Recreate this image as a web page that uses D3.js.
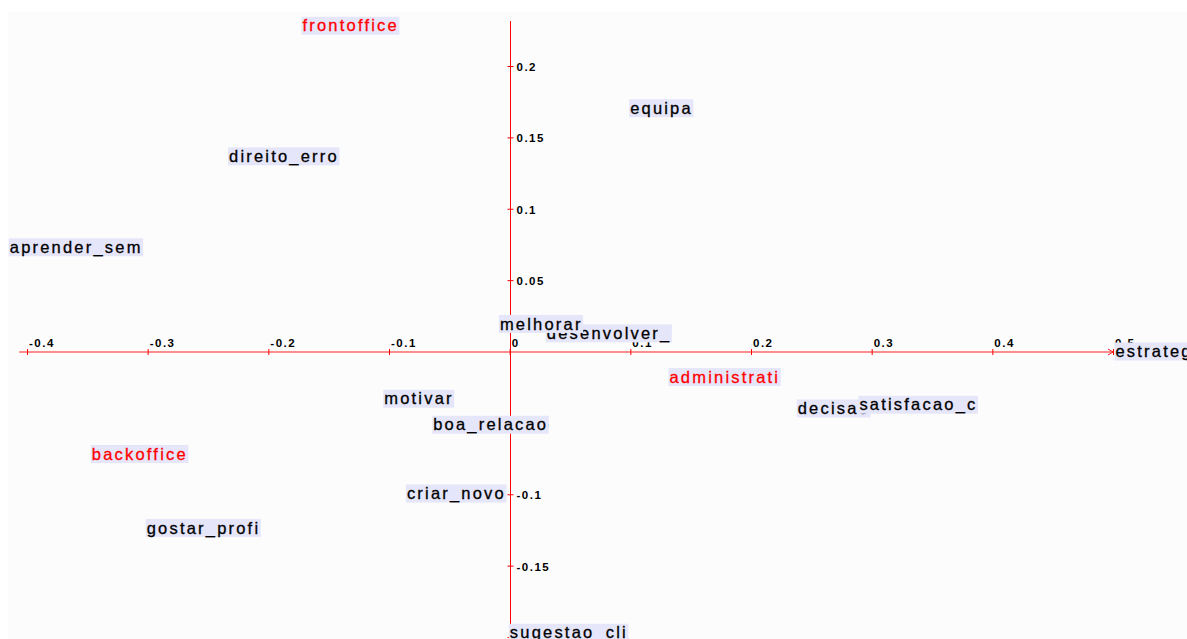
<!DOCTYPE html>
<html>
<head>
<meta charset="utf-8">
<script src="https://cdn.jsdelivr.net/npm/d3@7/dist/d3.min.js"></script>
<style>
body { margin: 0; background: #fff; }
svg { display: block; }
.lbl { font-family: "Liberation Sans", Arial, sans-serif; font-size: 16.5px; letter-spacing: 2.2px; stroke-width: 0.3px; }
.tick text { font-family: "Liberation Sans", Arial, sans-serif; font-size: 11.5px; font-weight: bold; letter-spacing: 1.5px; fill: #000; }
</style>
</head>
<body>
<svg id="chart" width="1187" height="639"></svg>
<script>
// points of the map (coordinates on axis 1 / axis 2)
var labels = ["frontoffice", "equipa", "direito_erro", "aprender_sem", "desenvolver_", "melhorar",
    "estrategia", "administrati", "motivar", "decisao", "satisfacao_c", "boa_relacao",
    "backoffice", "criar_novo", "gostar_profi", "sugestao_cli"];
var xVals = [-0.1725, 0.0990, -0.2334, -0.4151, 0.0300, -0.0089,
    0.5012, 0.1316, -0.1048, 0.2379, 0.2890, -0.0642,
    -0.3471, -0.0860, -0.3016, -0.0007];
var yVals = [0.2282, 0.1704, 0.1367, 0.0730, 0.0127, 0.0193,
    0.0000, -0.0179, -0.0331, -0.0399, -0.0373, -0.0513,
    -0.0718, -0.0995, -0.1236, -0.1970];
// "grp" = group modality (drawn red), "var" = variable
var kinds = ["grp", "var", "var", "var", "var", "var",
    "var", "grp", "var", "var", "var", "var",
    "grp", "var", "var", "var"];

var xTicks = [-0.4, -0.3, -0.2, -0.1, 0, 0.1, 0.2, 0.3, 0.4, 0.5];
var yTicks = [0.2, 0.15, 0.1, 0.05, -0.05, -0.1, -0.15, -0.2];

window.onload = function () {
    var svg = d3.select("#chart");

    var x = d3.scaleLinear().domain([-0.4, 0.5]).range([27, 1113]);
    var y = d3.scaleLinear().domain([-0.2, 0.2]).range([637, 66]);

    //panel
    svg.append("rect")
        .attr("x", 8).attr("y", 12)
        .attr("width", 1187 - 8).attr("height", 639 - 12)
        .attr("fill", "#fcfcfc");

    //axis lines
    svg.append("line")
        .attr("x1", x(-0.4065)).attr("x2", x(0.5))
        .attr("y1", y(0) + 0.5).attr("y2", y(0) + 0.5)
        .attr("stroke", "#ff2020");
    svg.append("path")
        .attr("d", "M" + (x(0.5) - 5) + "," + (y(0) - 2.5) + "L" + x(0.5) + "," + (y(0) + 0.5) + "L" + (x(0.5) - 5) + "," + (y(0) + 3.5))
        .attr("fill", "none")
        .attr("stroke", "#ff2020");
    svg.append("line")
        .attr("x1", Math.round(x(0)) + 0.5).attr("x2", Math.round(x(0)) + 0.5)
        .attr("y1", y(0.2315)).attr("y2", 639)
        .attr("stroke", "red");

    var fmt = function (d) { return String(d); };

    var gx = svg.append("g")
        .attr("transform", "translate(0," + (y(0) + 0.5) + ")")
        .call(d3.axisTop(x).tickValues(xTicks).tickSize(0).tickFormat(fmt));
    gx.select(".domain").remove();
    gx.selectAll(".tick line").attr("y1", -3).attr("y2", 3).attr("stroke", "red");
    gx.selectAll(".tick text")
        .attr("x", 1.5).attr("y", -5).attr("dy", null)
        .attr("text-anchor", "start");

    var gy = svg.append("g")
        .attr("transform", "translate(" + (Math.round(x(0)) + 0.5) + ",0)")
        .call(d3.axisRight(y).tickValues(yTicks).tickSize(0).tickFormat(fmt));
    gy.select(".domain").remove();
    gy.selectAll(".tick line").attr("x1", -3).attr("x2", 3).attr("stroke", "red");
    gy.selectAll(".tick text").attr("x", 6).attr("dy", "0.38em");

    //point labels
    var pts = labels.map(function (d, i) {
        return { name: d, x: xVals[i], y: yVals[i], kind: kinds[i] };
    });

    var g = svg.selectAll("g.pt")
        .data(pts)
        .enter()
        .append("g")
        .attr("class", "pt")
        .attr("transform", function (d) {
            return "translate(" + x(d.x) + "," + y(d.y) + ")";
        });

    g.append("rect")
        .attr("x", 0).attr("y", -9)
        .attr("height", 18)
        .attr("fill", "#e6e6fa");

    g.append("text")
        .attr("class", "lbl")
        .attr("x", 1).attr("y", 5.6)
        .attr("fill", function (d) { return d.kind == "grp" ? "#ff0000" : "#000"; })
        .attr("stroke", function (d) { return d.kind == "grp" ? "#ff0000" : "#000"; })
        .text(function (d) { return d.name; });

    g.each(function () {
        var t = d3.select(this).select("text").node();
        d3.select(this).select("rect").attr("width", t.getComputedTextLength() + 1.5);
    });
};
</script>
</body>
</html>
